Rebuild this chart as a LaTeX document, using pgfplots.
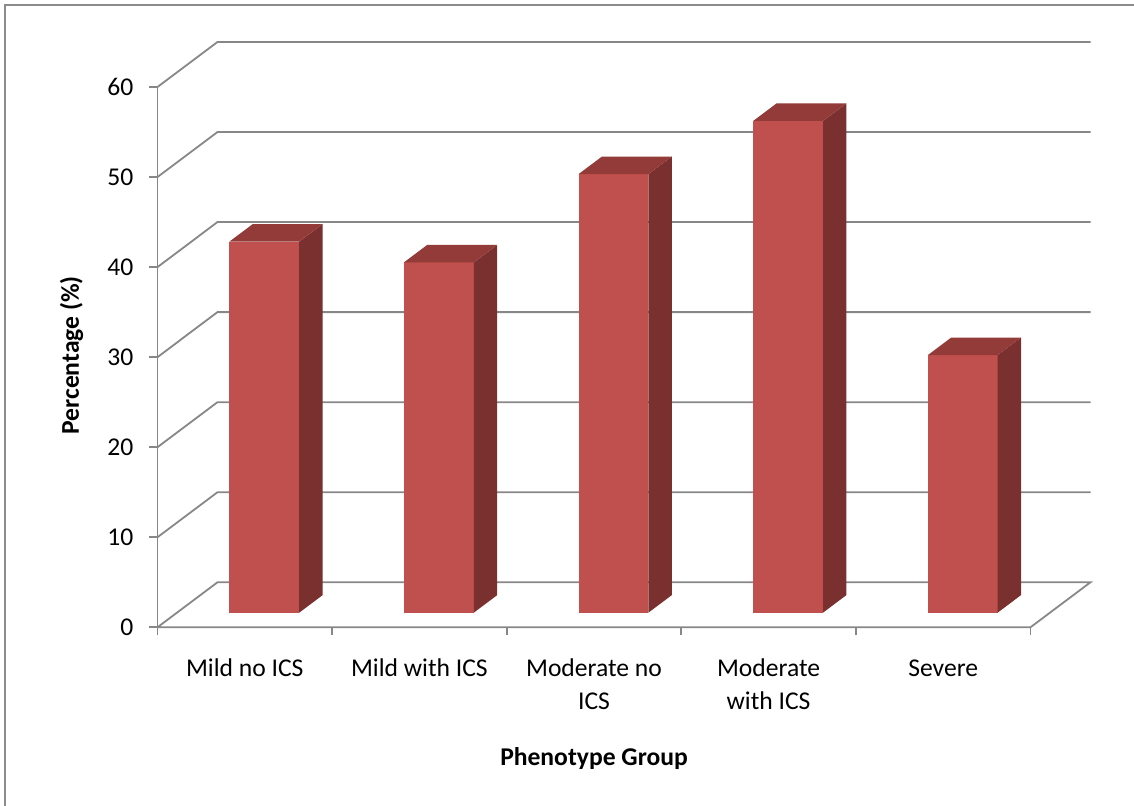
\documentclass[border=0pt]{standalone}
\usepackage{pgfplots}
\pgfplotsset{compat=1.18}
\usepackage{pgfplotstable}
\usepackage{fontspec}
\setmainfont{Carlito}
\usetikzlibrary{calc}

\definecolor{barfront}{HTML}{C0504D}
\definecolor{bartop}{HTML}{923B39}
\definecolor{barside}{HTML}{7A302E}
\definecolor{gridgray}{HTML}{878787}
\definecolor{framegray}{HTML}{8C8C8C}

\newcommand\lbl{\fontsize{12.8}{16.5}\selectfont}

% share of each phenotype group (%)
\pgfplotstableread{
idx value
0 41.2
1 38.9
2 48.7
3 54.6
4 28.6
}\phenodata

% oblique depth of floor and walls (x in category units, y in %)
\def\dX{0.3436}
\def\dY{5}

\begin{document}
\begin{tikzpicture}[x=1pt,y=1pt]
\useasboundingbox (-78.75,-89.35) rectangle (488.25,313.65);
\draw[framegray, line width=1pt] (-76.25,-89.35) -- (-76.25,311.15) -- (488.25,311.15);
\begin{axis}[
  at={(0,0)}, anchor=south west,
  x=87.3pt, y=4.5025pt,
  xmin=0, xmax=5.3436, ymin=0, ymax=65,
  clip=false,
  axis x line*=bottom, axis y line*=left,
  axis line style={draw=none},
  xtick={0,1,2,3,4,5}, xticklabel=\empty,
  ytick={0,10,...,60},
  tick align=outside,
  major tick length=4pt,
  tick style={gridgray, line width=0.9pt},
  ticklabel style={font=\lbl, text=black},
  yticklabel style={xshift=-4.5pt},
  /pgf/number format/assume math mode=true,
]
% back wall and side wall gridlines
\addplot[gridgray, line width=0.9pt] coordinates {(0,10) (0.3436,15) (5.3436,15)};
\addplot[gridgray, line width=0.9pt] coordinates {(0,20) (0.3436,25) (5.3436,25)};
\addplot[gridgray, line width=0.9pt] coordinates {(0,30) (0.3436,35) (5.3436,35)};
\addplot[gridgray, line width=0.9pt] coordinates {(0,40) (0.3436,45) (5.3436,45)};
\addplot[gridgray, line width=0.9pt] coordinates {(0,50) (0.3436,55) (5.3436,55)};
\addplot[gridgray, line width=0.9pt] coordinates {(0,60) (0.3436,65) (5.3436,65)};
% floor outline and front value axis
\addplot[gridgray, line width=0.9pt] coordinates {(0,0) (0.3436,5) (5.3436,5) (5,0) (0,0)};
\addplot[gridgray, line width=0.9pt] coordinates {(0,0) (0,60)};

% bars: front face, right side, top
\pgfplotsinvokeforeach{0,...,4}{
  \pgfplotstablegetelem{#1}{value}\of\phenodata
  \let\barval\pgfplotsretval
  \pgfmathsetmacro\xl{#1+0.5-0.2+0.325*\dX}
  \pgfmathsetmacro\xr{\xl+0.4}
  \pgfmathsetmacro\yb{0.325*\dY}
  \pgfmathsetmacro\yt{\yb+\barval}
  \pgfmathsetmacro\xrb{\xr+0.39*\dX}
  \pgfmathsetmacro\xlb{\xl+0.39*\dX}
  \pgfmathsetmacro\ytb{\yt+0.39*\dY}
  \pgfmathsetmacro\ybb{\yb+0.39*\dY}
  \edef\drawbar{%
    \noexpand\addplot[fill=barfront, draw=none] coordinates {(\xl,\yb) (\xr,\yb) (\xr,\yt) (\xl,\yt)};
    \noexpand\addplot[fill=barside, draw=none] coordinates {(\xr,\yb) (\xrb,\ybb) (\xrb,\ytb) (\xr,\yt)};
    \noexpand\addplot[fill=bartop, draw=none] coordinates {(\xl,\yt) (\xr,\yt) (\xrb,\ytb) (\xlb,\ytb)};
  }\drawbar
}

% category names
\node[anchor=base, font=\lbl, yshift=-24.85pt] at (axis cs:0.5,0) {Mild no ICS};
\node[anchor=base, font=\lbl, yshift=-24.85pt] at (axis cs:1.5,0) {Mild with ICS};
\node[anchor=base, font=\lbl, yshift=-24.85pt] at (axis cs:2.5,0) {Moderate no};
\node[anchor=base, font=\lbl, yshift=-41.35pt] at (axis cs:2.5,0) {ICS};
\node[anchor=base, font=\lbl, yshift=-24.85pt] at (axis cs:3.5,0) {Moderate};
\node[anchor=base, font=\lbl, yshift=-41.35pt] at (axis cs:3.5,0) {with ICS};
\node[anchor=base, font=\lbl, yshift=-24.85pt] at (axis cs:4.5,0) {Severe};

% axis titles
\node[anchor=base, font=\bfseries\lbl, yshift=-69pt] at (axis cs:2.5,0) {Phenotype Group};
\node[anchor=base, rotate=90, font=\bfseries\lbl] at ($(axis cs:0,30.2)+(-39.25pt,0)$) {Percentage (\%)};
\end{axis}
\end{tikzpicture}
\end{document}
